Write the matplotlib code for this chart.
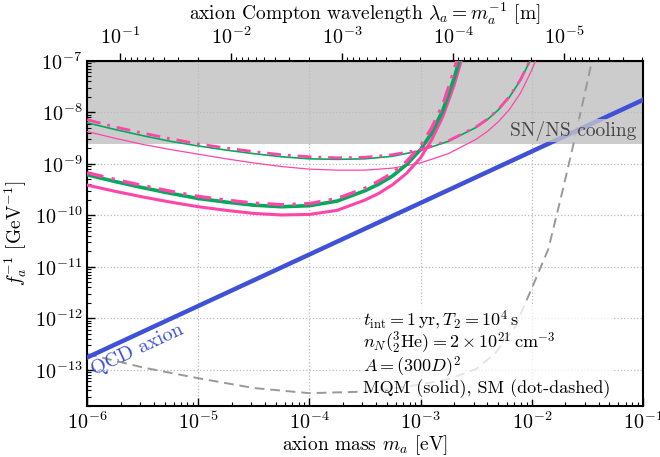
import numpy as np
import matplotlib
matplotlib.use('Agg')
import matplotlib.pyplot as plt

plt.rcParams['font.family'] = 'serif'
plt.rcParams['font.serif'] = ['cmr10', 'DejaVu Serif']
plt.rcParams['mathtext.fontset'] = 'cm'
plt.rcParams['axes.formatter.use_mathtext'] = True
plt.rcParams['axes.unicode_minus'] = False
plt.rcParams['font.size'] = 14

# ---- data (log10 of axion mass [eV] and f_a^-1 [GeV^-1]) ----
# upper group of curves
logm_hi = np.array([-6.0, -5.75, -5.5, -5.25, -5.0, -4.75, -4.5, -4.25, -4.0,
                    -3.75, -3.5, -3.25, -3.0, -2.75, -2.5, -2.4, -2.3, -2.2,
                    -2.1, -2.0, -1.9])
logf_hi_sm = np.array([-8.14, -8.28, -8.40, -8.51, -8.61, -8.69, -8.76, -8.82,
                       -8.86, -8.88, -8.87, -8.82, -8.72, -8.55, -8.28, -8.13,
                       -7.94, -7.69, -7.36, -6.92, -6.4])
logf_hi_mqm = np.array([-8.20, -8.33, -8.45, -8.56, -8.65, -8.73, -8.80, -8.86,
                        -8.90, -8.91, -8.90, -8.85, -8.74, -8.56, -8.29, -8.14,
                        -7.95, -7.70, -7.37, -6.93, -6.4])
logf_hi_pink = np.array([-8.37, -8.50, -8.62, -8.72, -8.81, -8.90, -8.98, -9.05,
                         -9.10, -9.12, -9.12, -9.08, -8.98, -8.80, -8.52, -8.37,
                         -8.18, -7.94, -7.62, -7.18, -6.65])

# lower group of curves
logm_lo = np.array([-6.0, -5.75, -5.5, -5.25, -5.0, -4.75, -4.5, -4.25, -4.0,
                    -3.75, -3.5, -3.375, -3.25, -3.125, -3.0, -2.9, -2.8, -2.7,
                    -2.6])
logf_lo_sm = np.array([-9.17, -9.30, -9.42, -9.53, -9.63, -9.70, -9.76, -9.79,
                       -9.77, -9.67, -9.47, -9.33, -9.17, -8.95, -8.65, -8.30,
                       -7.85, -7.20, -6.4])
logf_lo_mqm = np.array([-9.21, -9.34, -9.46, -9.57, -9.67, -9.74, -9.80, -9.83,
                        -9.81, -9.72, -9.52, -9.39, -9.23, -9.01, -8.72, -8.40,
                        -7.96, -7.35, -6.6])
logf_lo_pink = np.array([-9.41, -9.53, -9.64, -9.74, -9.83, -9.90, -9.96, -9.99,
                         -9.98, -9.90, -9.70, -9.57, -9.40, -9.18, -8.88, -8.53,
                         -8.08, -7.48, -6.75])

# gray dashed curve
logm_dash = np.array([-6.0, -5.5, -5.0, -4.5, -4.0, -3.5, -3.25, -3.0, -2.75,
                      -2.5, -2.33, -2.15, -2.0, -1.85, -1.72, -1.63, -1.55,
                      -1.46, -1.42])
logf_dash = np.array([-12.69, -12.95, -13.16, -13.35, -13.45, -13.42, -13.36,
                      -13.28, -13.18, -12.98, -12.68, -12.16, -11.42, -10.65,
                      -9.5, -8.67, -7.9, -7.02, -6.6])

# QCD axion line
qcd_m = [1e-6, 1e-1]
qcd_f = [1.75e-13, 1.75e-8]

sn_bound = 2.4e-9
hbarc = 1.97e-7  # eV m

pink = '#ff45aa'
green = '#00aa5a'
blue = '#3f51d6'

fig = plt.figure(figsize=(6.6, 4.57), dpi=100)
ax = fig.add_axes([0.132, 0.1116, 0.842, 0.755])

ax.axhspan(sn_bound, 1e-7, color='#cccccc', zorder=0, lw=0)

ax.plot(10**logm_dash, 10**logf_dash, color='#999999', lw=1.4,
        dashes=(5, 3), zorder=2)
ax.plot(qcd_m, qcd_f, color=blue, lw=3.2, zorder=3)

ax.plot(10**logm_hi, 10**logf_hi_pink, color=pink, lw=0.9, zorder=3)
ax.plot(10**logm_hi, 10**logf_hi_mqm, color=green, lw=1.2, zorder=3)
ax.plot(10**logm_hi, 10**logf_hi_sm, color=pink, lw=2.0,
        dashes=(5, 2.5, 1, 2.5), zorder=4)

ax.plot(10**logm_lo, 10**logf_lo_pink, color=pink, lw=2.2, zorder=3)
ax.plot(10**logm_lo, 10**logf_lo_mqm, color=green, lw=2.6, zorder=3)
ax.plot(10**logm_lo, 10**logf_lo_sm, color=pink, lw=2.4,
        dashes=(5, 2.5, 1, 2.5), zorder=4)

ax.set_xscale('log')
ax.set_yscale('log')
ax.set_xlim(1e-6, 1e-1)
ax.set_ylim(2e-14, 1e-7)
ax.grid(True, which='major', ls=':', color='#bbbbbb', lw=0.9)
ax.set_axisbelow(True)

for s in ax.spines.values():
    s.set_linewidth(1.5)
ax.tick_params(which='both', direction='in', top=False, right=False,
               labelsize=14.5)
ax.tick_params(which='major', length=6, width=1)
ax.tick_params(which='minor', length=3, width=0.8)

ax.set_xlabel(r'axion mass $m_a$ [eV]')
ax.set_ylabel(r'$f_a^{-1}$ [GeV$^{-1}$]')
ax.xaxis.set_label_coords(0.5, -0.078)
ax.yaxis.set_label_coords(-0.105, 0.5)

sec = ax.secondary_xaxis('top', functions=(lambda m: hbarc / m,
                                           lambda l: hbarc / l))
sec.set_xlabel(r'axion Compton wavelength $\lambda_a = m_a^{-1}$ [m]')
sec.tick_params(which='both', direction='out', labelsize=14.5)
sec.tick_params(which='major', length=6, width=1)
sec.tick_params(which='minor', length=3, width=0.8)

ax.text(0.989, 4.4e-9, 'SN/NS cooling', transform=ax.get_yaxis_transform(),
        ha='right', va='center', color='#444444', fontsize=14,
        bbox=dict(facecolor='#cccccc', edgecolor='none', alpha=0.75, pad=1))

ax.text(1.15e-6, 8.0e-14, 'QCD axion', color=blue, rotation=25,
        rotation_mode='anchor', ha='left', va='baseline', fontsize=14.5)

info = ('$t_{\\rm int} = 1\\,{\\rm yr}, T_2 = 10^4\\,{\\rm s}$\n'
        '$n_N({}^{3}_{2}{\\rm He}) = 2\\times 10^{21}\\,{\\rm cm}^{-3}$\n'
        '$A = (300D)^2$\n'
        'MQM (solid), SM (dot-dashed)')
ax.text(0.497, 0.022, info, transform=ax.transAxes, ha='left', va='bottom',
        fontsize=13, linespacing=0.95,
        bbox=dict(facecolor='white', edgecolor='none', alpha=0.75, pad=1))

fig.savefig('out.png', dpi=100)
